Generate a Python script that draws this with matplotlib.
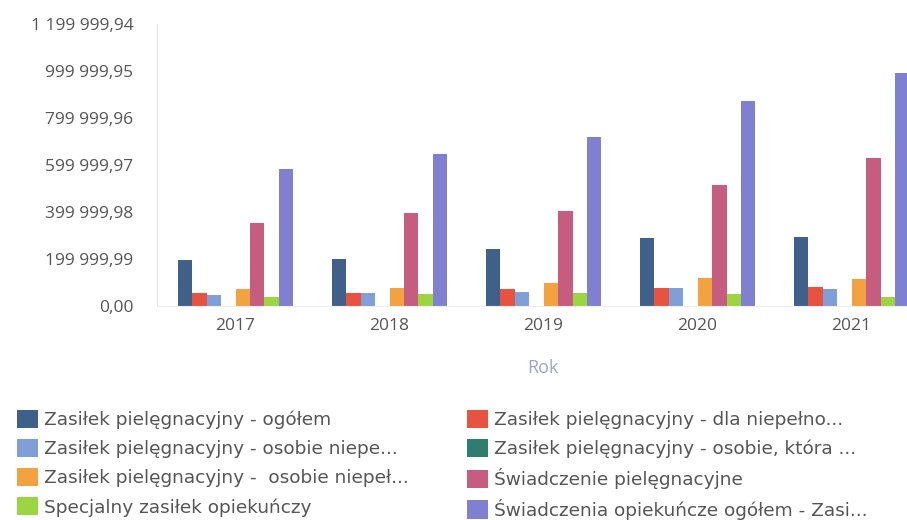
import matplotlib
matplotlib.use("Agg")
import matplotlib.pyplot as plt
from matplotlib.patches import Rectangle
import matplotlib.ticker as ticker
import numpy as np

plt.rcParams['font.family'] = ['Open Sans', 'DejaVu Sans']

# years on the x axis
years = ["2017", "2018", "2019", "2020", "2021"]

# series names as they appear in the legend
names = [
    "Zasiłek pielęgnacyjny - ogółem",
    "Zasiłek pielęgnacyjny - dla niepełno...",
    "Zasiłek pielęgnacyjny - osobie niepe...",
    "Zasiłek pielęgnacyjny - osobie, która ...",
    "Zasiłek pielęgnacyjny -  osobie niepeł...",
    "Świadczenie pielęgnacyjne",
    "Specjalny zasiłek opiekuńczy",
    "Świadczenia opiekuńcze ogółem - Zasi...",
]

# amounts per series, one value per year
ogolem = [196000, 201000, 241000, 291000, 292000]
dla_niepelno = [57000, 57000, 71000, 78000, 82000]
osobie_niepe = [48000, 54000, 61000, 75000, 72000]
osobie_ktora = [0, 0, 0, 0, 0]
osobie_niepel = [71000, 78000, 97000, 118000, 114000]
swiadczenie = [352000, 396000, 403000, 515000, 631000]
specjalny = [40000, 50000, 54000, 50000, 40000]
opiekuncze = [583000, 647000, 720000, 874000, 993000]

series = [ogolem, dla_niepelno, osobie_niepe, osobie_ktora,
          osobie_niepel, swiadczenie, specjalny, opiekuncze]

colors = ["#3f6189", "#e8533f", "#7f9fd8", "#2f7d6e",
          "#f2a33f", "#c65d80", "#9bd640", "#7f80d2"]

# y axis tick values
yticks = [0.00, 199999.99, 399999.98, 599999.97,
          799999.96, 999999.95, 1199999.94]


def pl_format(v, pos=None):
    """format number with space thousands and comma decimal"""
    s = f"{v:,.2f}"
    return s.replace(",", " ").replace(".", ",")


fig = plt.figure(figsize=(9.07, 5.2), dpi=100)
ax = fig.add_axes([157 / 907, 1 - 306 / 520, 1 - 157 / 907, (306 - 24) / 520])

n = len(series)
width = 0.094
x = np.arange(len(years))
for i, vals in enumerate(series):
    ax.bar(x + (i - (n - 1) / 2) * width, vals, width,
           color=colors[i], linewidth=0)

ax.set_xlim(-0.51, 4.36)
ax.set_ylim(0, yticks[-1])
ax.set_xticks(x)
ax.set_xticklabels(years)
ax.set_yticks(yticks)
ax.yaxis.set_major_formatter(ticker.FuncFormatter(pl_format))

ax.tick_params(axis='x', length=0, pad=9, labelsize=12.5, labelcolor='#555555')
ax.tick_params(axis='y', length=0, pad=17, labelsize=12.5, labelcolor='#555555')

for side in ["top", "right"]:
    ax.spines[side].set_visible(False)
ax.spines["left"].set_color("#e4e4e4")
ax.spines["bottom"].set_color("#eeeeee")

fig.text(543 / 907, 1 - 368 / 520, "Rok", ha='center', va='center',
         fontsize=13, color='#9ea0d4')

# legend split into two columns
handles = [Rectangle((0, 0), 1, 1, facecolor=c, edgecolor='none') for c in colors]
common = dict(frameon=False, prop={'family': 'DejaVu Sans', 'size': 13.3},
              handlelength=1.15, handleheight=1.15, handletextpad=0.3,
              labelspacing=0.52, borderpad=0, borderaxespad=0,
              labelcolor='#555555')
fig.legend([handles[i] for i in (0, 2, 4, 6)], [names[i] for i in (0, 2, 4, 6)],
           loc='upper left', bbox_to_anchor=(17 / 907, 1 - 410 / 520), **common)
fig.legend([handles[i] for i in (1, 3, 5, 7)], [names[i] for i in (1, 3, 5, 7)],
           loc='upper left', bbox_to_anchor=(467 / 907, 1 - 410 / 520), **common)

fig.savefig("out.png", dpi=100)
